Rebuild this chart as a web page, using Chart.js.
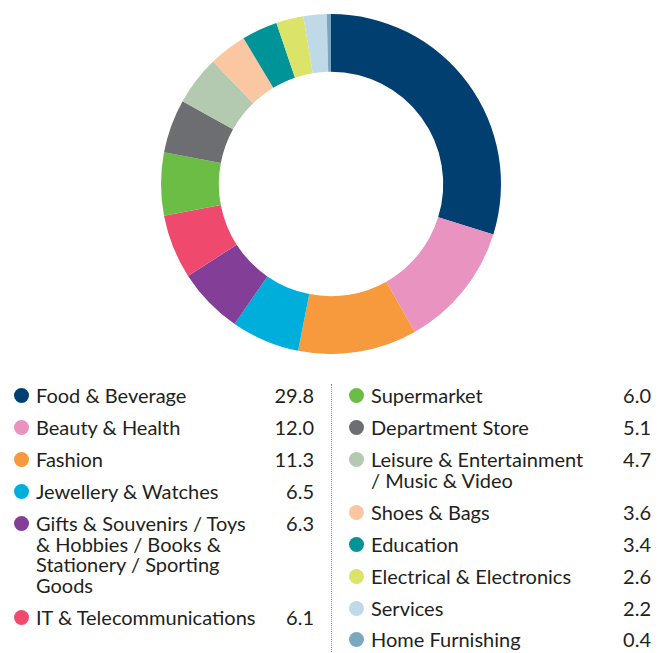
<!DOCTYPE html>
<html>
<head>
<meta charset="utf-8">
<script src="https://cdn.jsdelivr.net/npm/chart.js@4"></script>
<style>
  html, body { margin: 0; padding: 0; background: #fff; }
  body { width: 664px; height: 653px; position: relative; overflow: hidden;
         font-family: "Lato", "Noto Sans", sans-serif; color: #231f20; }
  .chart-area { position: absolute; left: 0; top: 14px; width: 662px; height: 340px; }
  .legend-col { position: absolute; top: 385px; }
  .legend-left { left: 12px; width: 302px; }
  .legend-right { left: 347px; width: 304px; }
  .divider { position: absolute; left: 331px; top: 384px; height: 268px;
             border-left: 1px dotted #8a8a8a; }
  .row { display: flex; align-items: flex-start; margin-bottom: 11.4px;
         font-size: 20px; line-height: 20.6px; }
  .dot { flex: 0 0 auto; width: 15px; height: 15px; border-radius: 50%;
         margin: 3px 7px 0 2px; }
  .label { flex: 1 1 auto; }
  .legend-left .label { max-width: 227px; }
  .legend-right .label { max-width: 220px; }
  .value { flex: 0 0 auto; margin-left: auto; text-align: right; min-width: 40px; }
</style>
</head>
<body>
<div class="chart-area"><canvas id="donut"></canvas></div>
<div class="divider"></div>
<div class="legend-col legend-left" id="legendLeft"></div>
<div class="legend-col legend-right" id="legendRight"></div>
<script>
// 各類別佔比 (%)
var categories = [
  'Food & Beverage', 'Beauty & Health', 'Fashion', 'Jewellery & Watches',
  'Gifts & Souvenirs / Toys & Hobbies / Books & Stationery / Sporting Goods',
  'IT & Telecommunications', 'Supermarket', 'Department Store',
  'Leisure & Entertainment / Music & Video', 'Shoes & Bags', 'Education',
  'Electrical & Electronics', 'Services', 'Home Furnishing'
];
var shares = [29.8, 12.0, 11.3, 6.5, 6.3, 6.1, 6.0, 5.1, 4.7, 3.6, 3.4, 2.6, 2.2, 0.4];
var colors = [
  '#013f70', '#e993c0', '#f79a3e', '#00aedb', '#833f98', '#ef4a6e', '#6bbd45',
  '#6d6e71', '#b3c9b0', '#fbc7a3', '#009398', '#dbe368', '#c0d9e6', '#7ba7c0'
];
// 圖例分兩欄
var leftCount = 6;

function buildLegend() {
  var left = document.getElementById('legendLeft');
  var right = document.getElementById('legendRight');
  categories.forEach(function (name, i) {
    var row = document.createElement('div');
    row.className = 'row';
    row.innerHTML = '<span class="dot" style="background:' + colors[i] + '"></span>' +
      '<span class="label"></span><span class="value">' + shares[i].toFixed(1) + '</span>';
    row.querySelector('.label').textContent = name;
    (i < leftCount ? left : right).appendChild(row);
  });
}
buildLegend();

new Chart(document.getElementById('donut'), {
  type: 'doughnut',
  data: {
    labels: categories,
    datasets: [{
      data: shares,
      backgroundColor: colors,
      borderWidth: 0
    }]
  },
  options: {
    responsive: true,
    maintainAspectRatio: false,
    animation: false,
    cutout: '66%',
    layout: { padding: 0 },
    plugins: {
      legend: { display: false },
      tooltip: { enabled: false }
    }
  }
});
</script>
</body>
</html>
